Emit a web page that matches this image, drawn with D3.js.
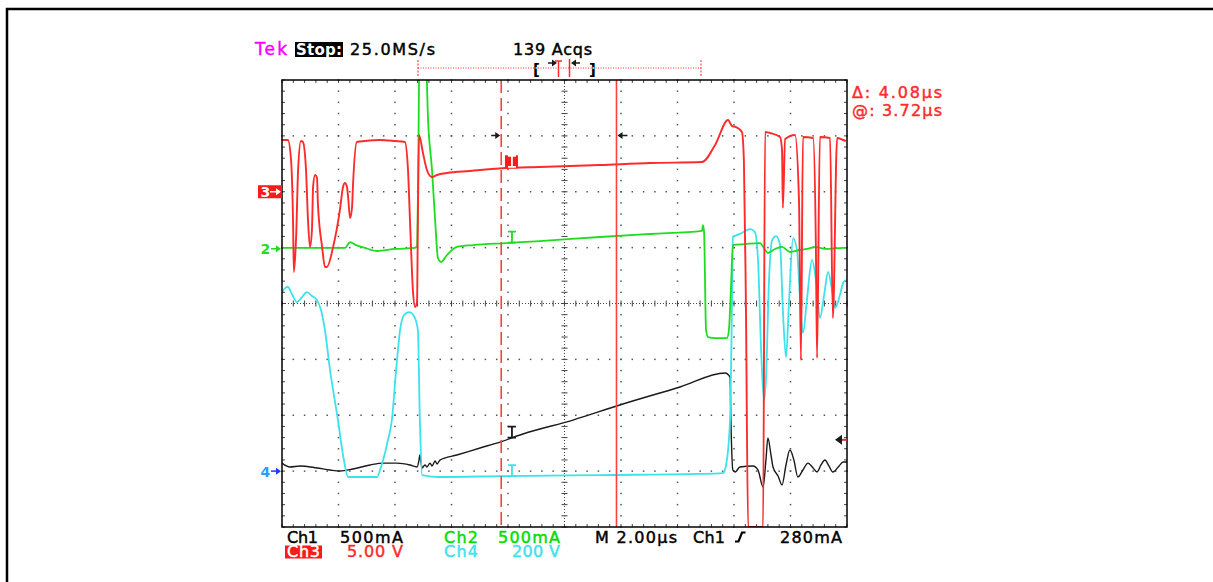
<!DOCTYPE html>
<html>
<head>
<meta charset="utf-8">
<script src="https://cdn.jsdelivr.net/npm/d3@7"></script>
<style>
  body { margin: 0; background: #fff; }
  svg { display: block; }
  text { font-family: "DejaVu Sans", sans-serif; }
</style>
</head>
<body>
<div id="scope"></div>
<script>
// waveforms read off the screen capture: [time in µs, value in channel units]
// Ch3 (volts), red
let ch3 = [[0,4.63],[0.21,4.63],[0.32,2.84],[0.39,-2.53],[0.42,-7.18],[0.50,-4.05],[0.57,1.95],[0.67,4.54],[0.74,4.45],
  [0.85,1.95],[0.92,-2.53],[0.99,-4.94],[1.06,-3.42],[1.10,0.43],[1.17,1.50],[1.24,1.23],[1.27,-1.01],[1.42,-4.94],
  [1.52,-6.73],[1.59,-6.73],[1.81,-4.94],[2.05,-1.63],[2.16,0.43],[2.23,0.78],[2.30,0.43],[2.34,-0.47],[2.41,-2.35],
  [2.48,-1.36],[2.51,0.43],[2.65,4.45],[2.94,4.54],[3.47,4.63],[4.00,4.54],[4.35,4.45],[4.46,1.95],[4.53,-2.53],
  [4.64,-9.06],[4.71,-10.31],[4.78,-9.87],[4.81,-2.53],[4.85,5.08],[4.99,3.47],[5.13,1.95],[5.31,1.32],[5.49,1.50],
  [5.84,1.68],[6.65,1.86],[7.96,2.13],[9.13,2.21],[11.26,2.39],[13.03,2.57],[14.87,2.66],[15.33,4.18],[15.79,6.42],
  [15.93,5.88],[16.07,5.79],[16.28,5.35],[16.35,2.84],[16.42,-9.69],[16.50,-30],[17.03,-30],[17.10,5.35],[17.27,5.26],
  [17.63,4.90],[17.70,3.74],[17.73,-1.45],[17.81,4.72],[18.16,5.08],[18.30,-0.74],[18.37,-15.06],[18.44,4.90],
  [18.80,4.81],[18.90,-5.21],[18.94,-14.88],[19.04,4.90],[19.40,4.81],[19.50,-11.30],[19.65,4.81],[19.86,4.63],[19.96,4.54]];

// Ch2 (mA), green
let ch2 = [[0,7],[2.23,7],[2.41,60],[2.62,33],[2.94,7],[3.36,-20],[4.00,-2],[4.71,7],[4.78,25],[4.81,436],[4.88,2000],
  [5.06,2000],[5.17,1152],[5.31,705],[5.42,257],[5.52,-83],[5.63,-119],[5.84,-56],[6.19,16],[6.76,33],[7.96,51],
  [9.13,69],[11.26,105],[13.03,132],[14.87,159],[14.90,212],[14.94,150],[15.01,-727],[15.08,-790],[15.33,-799],
  [15.75,-799],[15.82,-727],[15.89,-369],[15.96,33],[16.39,42],[16.92,51],[17.10,-11],[17.20,-38],[17.45,-2],
  [17.70,16],[17.98,-29],[18.34,-11],[18.58,-2],[18.87,16],[19.22,-2],[19.86,7],[20,7]];

// Ch4 (volts), cyan
let ch4 = [[0,641],[0.11,655],[0.21,659],[0.35,634],[0.53,605],[0.71,623],[0.88,641],[1.06,627],[1.24,612],[1.38,577],
  [1.52,505],[1.70,362],[1.98,183],[2.19,40],[2.34,-21],[2.94,-21],[3.36,-21],[3.47,4],[3.58,40],[3.75,111],[3.89,183],
  [4.04,362],[4.18,505],[4.32,559],[4.50,569],[4.67,555],[4.81,505],[4.88,183],[4.96,-14],[5.59,-21],[7.72,-18],
  [11.26,-14],[14.80,-10],[15.61,-7],[15.72,22],[15.86,183],[15.93,612],[15.96,838],[16.21,849],[16.57,866],
  [16.74,856],[16.85,756],[16.96,433],[17.06,254],[17.13,326],[17.24,684],[17.35,827],[17.49,841],[17.63,809],
  [17.73,577],[17.84,408],[17.95,612],[18.09,834],[18.23,791],[18.34,612],[18.44,494],[18.58,612],[18.76,756],
  [18.90,684],[19.04,548],[19.19,630],[19.33,713],[19.47,648],[19.58,584],[19.75,630],[19.86,673],[19.96,684]];

// Ch1 (mA), black
let ch1 = [[0,72],[0.28,37],[0.64,46],[1.24,28],[1.70,10],[2.05,1],[2.51,19],[3.12,55],[3.58,72],[4.07,72],[4.53,55],
  [4.78,37],[4.85,99],[4.88,144],[4.92,81],[4.96,28],[5.06,55],[5.13,37],[5.24,72],[5.31,46],[5.42,90],[5.49,64],
  [5.59,99],[6.19,144],[7.01,207],[7.72,260],[8.53,332],[10.30,457],[11.96,592],[14.09,753],[15.68,878],[15.86,842],
  [15.89,457],[15.96,10],[16.04,-8],[16.21,37],[16.67,46],[16.85,10],[17.03,-142],[17.13,99],[17.20,296],[17.31,144],
  [17.38,37],[17.56,-44],[17.70,-124],[17.84,55],[17.98,189],[18.12,99],[18.26,-53],[18.44,10],[18.62,72],[18.80,28],
  [18.94,-8],[19.08,55],[19.22,99],[19.36,46],[19.50,-8],[19.72,46],[19.86,81],[20,81]];

// channel ground position (divisions from centre) and units per division
let chPos = {ch1: -3, ch2: 0.98, ch3: 2, ch4: -3};
let chScale = {ch1: 500, ch2: 500, ch3: 5, ch4: 200};

// cursor times (µs) and trace values where the cursor readout markers sit
let cursors = [7.76, 11.84];
let markerTime = 8.14;
let markerVals = {ch3: 2.1, ch2: 55, ch1: 300, ch4: -18};

// readout text
let topLabels = ["Tek", "Stop:", "25.0MS/s", "139 Acqs"];
let cursorLabels = ["\u0394: 4.08\u00b5s", "@: 3.72\u00b5s"];
let bottomRow1 = ["Ch1", "500mA", "Ch2", "500mA", "M 2.00\u00b5s", "Ch1", "280mA"];
let bottomRow2 = ["Ch3", "5.00 V", "Ch4", "200 V"];
let trigLevel = 280; // mA on Ch1

const RED = "#ff2b2b", GREEN = "#1fdc1f", CYAN = "#3ce2ec", DARK = "#1a1a1a";

let svg = d3.select("#scope").append("svg")
  .attr("width", 1213)
  .attr("height", 582);

// page frame (runs off the right and bottom edges)
svg.append("path")
  .attr("d", "M7,582V9H1213")
  .attr("fill", "none")
  .attr("stroke", "#000")
  .attr("stroke-width", 2.5);

// time and division scales of the graticule
let x = d3.scaleLinear().domain([0, 20]).range([282, 847]);
let y = d3.scaleLinear().domain([-4, 4]).range([527, 80]);
function yc(ch, v) { return y(chPos[ch] + v / chScale[ch]); }

// graticule
let grid = svg.append("g");
let minorT = d3.range(0, 50.5).map(i => i * 0.4);
let minorD = d3.range(0, 40.5).map(i => -4 + i * 0.2);
let majorT = [2, 4, 6, 8, 12, 14, 16, 18];
let majorD = [-3, -2, -1, 1, 2, 3];
let dots = [];
majorT.forEach(t => minorD.forEach(d => dots.push([t, d])));
majorD.forEach(d => minorT.forEach(t => dots.push([t, d])));
grid.selectAll("rect.dot").data(dots).enter().append("rect")
  .attr("class", "dot")
  .attr("x", d => x(d[0]) - 0.75)
  .attr("y", d => y(d[1]) - 0.75)
  .attr("width", 1.5).attr("height", 1.5)
  .attr("fill", "#555");

// centre crosshair, dense dotted with minor ticks
grid.append("line").attr("x1", x(10)).attr("x2", x(10)).attr("y1", y(4)).attr("y2", y(-4))
  .attr("stroke", "#444").attr("stroke-dasharray", "1,2");
grid.append("line").attr("x1", x(0)).attr("x2", x(20)).attr("y1", y(0)).attr("y2", y(0))
  .attr("stroke", "#444").attr("stroke-dasharray", "1,2");
grid.selectAll("line.ty").data(minorD).enter().append("line")
  .attr("x1", x(10) - 3).attr("x2", x(10) + 3)
  .attr("y1", d => y(d)).attr("y2", d => y(d))
  .attr("stroke", "#444");
grid.selectAll("line.tx").data(minorT).enter().append("line")
  .attr("y1", y(0) - 3).attr("y2", y(0) + 3)
  .attr("x1", d => x(d)).attr("x2", d => x(d))
  .attr("stroke", "#444");

// edge ticks
minorT.forEach(t => {
  grid.append("line").attr("x1", x(t)).attr("x2", x(t)).attr("y1", y(4)).attr("y2", y(4) + 3).attr("stroke", "#444");
  grid.append("line").attr("x1", x(t)).attr("x2", x(t)).attr("y1", y(-4)).attr("y2", y(-4) - 3).attr("stroke", "#444");
});
minorD.forEach(d => {
  grid.append("line").attr("x1", x(0)).attr("x2", x(0) + 3).attr("y1", y(d)).attr("y2", y(d)).attr("stroke", "#444");
  grid.append("line").attr("x1", x(20)).attr("x2", x(20) - 3).attr("y1", y(d)).attr("y2", y(d)).attr("stroke", "#444");
});

// traces
svg.append("clipPath").attr("id", "plot")
  .append("rect").attr("x", x(0)).attr("y", y(4)).attr("width", x(20) - x(0)).attr("height", y(-4) - y(4));

let traces = [
  {ch: "ch1", data: ch1, color: DARK, w: 1.4},
  {ch: "ch4", data: ch4, color: CYAN, w: 1.8},
  {ch: "ch2", data: ch2, color: GREEN, w: 1.8},
  {ch: "ch3", data: ch3, color: RED, w: 1.9}
];
let traceG = svg.append("g").attr("clip-path", "url(#plot)");
traces.forEach(tr => {
  let line = d3.line()
    .curve(d3.curveMonotoneX)
    .x(d => x(d[0]))
    .y(d => yc(tr.ch, d[1]));
  traceG.append("path")
    .attr("d", line(tr.data))
    .attr("fill", "none")
    .attr("stroke", tr.color)
    .attr("stroke-width", tr.w)
    .attr("stroke-linejoin", "round");
});

// cursors
svg.append("line").attr("x1", x(cursors[0])).attr("x2", x(cursors[0])).attr("y1", y(4)).attr("y2", y(-4))
  .attr("stroke", "#ff4040").attr("stroke-width", 1.6).attr("stroke-dasharray", "13,5");
svg.append("line").attr("x1", x(cursors[1])).attr("x2", x(cursors[1])).attr("y1", y(4)).attr("y2", y(-4))
  .attr("stroke", "#ff4040").attr("stroke-width", 1.6);

// graticule frame
svg.append("rect").attr("x", x(0)).attr("y", y(4)).attr("width", x(20) - x(0)).attr("height", y(-4) - y(4))
  .attr("fill", "none").attr("stroke", "#000").attr("stroke-width", 1.5);

// cursor readout I-beams
function ibeam(cx, by, color) {
  svg.append("path")
    .attr("d", `M${cx - 4},${by - 11}H${cx + 4}M${cx},${by - 11}V${by}M${cx - 4},${by}H${cx + 4}`)
    .attr("stroke", color).attr("stroke-width", 1.8).attr("fill", "none");
}
let mx = x(markerTime);
svg.append("rect").attr("x", mx - 7).attr("y", yc("ch3", markerVals.ch3) - 13).attr("width", 13).attr("height", 13).attr("fill", "#ff1a1a");
ibeam(mx, yc("ch3", markerVals.ch3) - 1.5, "#fff");
ibeam(mx, yc("ch2", markerVals.ch2), GREEN);
ibeam(mx, yc("ch1", markerVals.ch1), DARK);
ibeam(mx, yc("ch4", markerVals.ch4), CYAN);

// arrows
function arrow(x1, x2, yy, color, w) {
  let dir = x2 > x1 ? 1 : -1;
  svg.append("line").attr("x1", x1).attr("x2", x2 - dir * 3).attr("y1", yy).attr("y2", yy)
    .attr("stroke", color).attr("stroke-width", w || 1.5);
  svg.append("path")
    .attr("d", `M${x2},${yy}L${x2 - dir * 5},${yy - 3.5}L${x2 - dir * 5},${yy + 3.5}Z`)
    .attr("fill", color);
}
arrow(x(cursors[0]) - 10, x(cursors[0]) - 1, 135.5, DARK);
arrow(x(cursors[1]) + 11, x(cursors[1]) + 1, 135.5, DARK);

// trigger level marker on the right edge
let ty = yc("ch1", trigLevel);
svg.append("path").attr("d", `M${x(20) - 12},${ty}L${x(20) - 5},${ty - 5}L${x(20) - 5},${ty + 5}Z`).attr("fill", DARK);
svg.append("line").attr("x1", x(20) - 5).attr("x2", x(20)).attr("y1", ty).attr("y2", ty).attr("stroke", "#c33").attr("stroke-width", 2);

// channel ground markers
svg.append("rect").attr("x", 258).attr("y", yc("ch3", 0) - 6.5).attr("width", 24).attr("height", 13).attr("fill", "#ff1a1a");
svg.append("text").attr("x", 260.5).attr("y", yc("ch3", 0) + 5.5).attr("font-size", 14).attr("font-weight", "bold").attr("fill", "#fff").text("3");
arrow(270, 281, yc("ch3", 0), "#fff", 1.5);
svg.append("text").attr("x", 260.5).attr("y", yc("ch2", 0) + 5.5).attr("font-size", 14).attr("font-weight", "bold").attr("fill", GREEN).text("2");
arrow(271, 281, yc("ch2", 0), GREEN, 1.5);
svg.append("text").attr("x", 260.5).attr("y", yc("ch4", 0) + 5.5).attr("font-size", 14).attr("font-weight", "bold").attr("fill", "#2a9df4").text("4");
arrow(271, 281, yc("ch4", 0), "#1a3cff", 1.5);

// record window bar at top
let bar = svg.append("g");
bar.append("line").attr("x1", 418).attr("x2", 701).attr("y1", 68).attr("y2", 68)
  .attr("stroke", RED).attr("stroke-dasharray", "1,1.5");
[418, 701].forEach(px => bar.append("line").attr("x1", px).attr("x2", px).attr("y1", 60).attr("y2", 76)
  .attr("stroke", RED).attr("stroke-dasharray", "2,1.5"));
bar.append("text").attr("x", 533).attr("y", 75).attr("font-size", 15).attr("font-weight", "bold").attr("fill", "#000").text("[");
bar.append("text").attr("x", 589).attr("y", 75).attr("font-size", 15).attr("font-weight", "bold").attr("fill", "#000").text("]");
bar.append("rect").attr("x", 535.5).attr("y", 67).attr("width", 2).attr("height", 2).attr("fill", CYAN);
bar.append("rect").attr("x", 592.5).attr("y", 67).attr("width", 2).attr("height", 2).attr("fill", CYAN);
arrow(548, 557, 63, DARK, 1.5);
arrow(580, 571, 63, DARK, 1.5);
bar.append("path").attr("d", "M555,61H562M558.5,61V77").attr("stroke", RED).attr("stroke-width", 1.5).attr("fill", "none");
bar.append("line").attr("x1", 569.5).attr("x2", 569.5).attr("y1", 59).attr("y2", 77).attr("stroke", RED).attr("stroke-width", 1.5);

// text helper: x is left edge, len is the measured text width
function label(x0, y0, str, color, len, size, weight) {
  let t = svg.append("text")
    .attr("x", x0).attr("y", y0)
    .attr("font-size", size || 16)
    .attr("fill", color)
    .attr("stroke", color)
    .attr("stroke-width", weight ? 0 : 0.45)
    .text(str);
  if (len) t.attr("textLength", len).attr("lengthAdjust", "spacing");
  if (weight) t.attr("font-weight", weight);
  return t;
}

// top readout
label(255, 55, topLabels[0], "#ff00ff", 32, 17);
svg.append("rect").attr("x", 295).attr("y", 42).attr("width", 48).attr("height", 15).attr("fill", "#000");
label(296, 55, topLabels[1], "#fff", 46, 15, "bold");
label(350, 55, topLabels[2], "#000", 85);
label(513, 55, topLabels[3], "#000", 79);

// cursor readout
label(852, 98, cursorLabels[0], RED, 90);
label(852, 116, cursorLabels[1], RED, 90);

// bottom readout
label(287, 543, bottomRow1[0], "#000", 31);
label(340, 543, bottomRow1[1], "#000", 63);
label(444, 543, bottomRow1[2], "#00dd00", 34);
label(498, 543, bottomRow1[3], "#00dd00", 62);
label(595, 543, bottomRow1[4], "#000", 82);
label(693, 543, bottomRow1[5], "#000", 32);
svg.append("path").attr("d", "M735,541.5H738.5L742,532.5H745.5").attr("stroke", "#000").attr("stroke-width", 2.2).attr("fill", "none");
label(780, 543, bottomRow1[6], "#000", 62);

svg.append("rect").attr("x", 285).attr("y", 545.5).attr("width", 37).attr("height", 13).attr("fill", "#ff1a1a");
label(287, 557, bottomRow2[0], "#fff", 33);
label(347, 557, bottomRow2[1], RED, 56);
label(444, 557, bottomRow2[2], CYAN, 34);
label(512, 557, bottomRow2[3], CYAN, 48);
</script>
</body>
</html>
